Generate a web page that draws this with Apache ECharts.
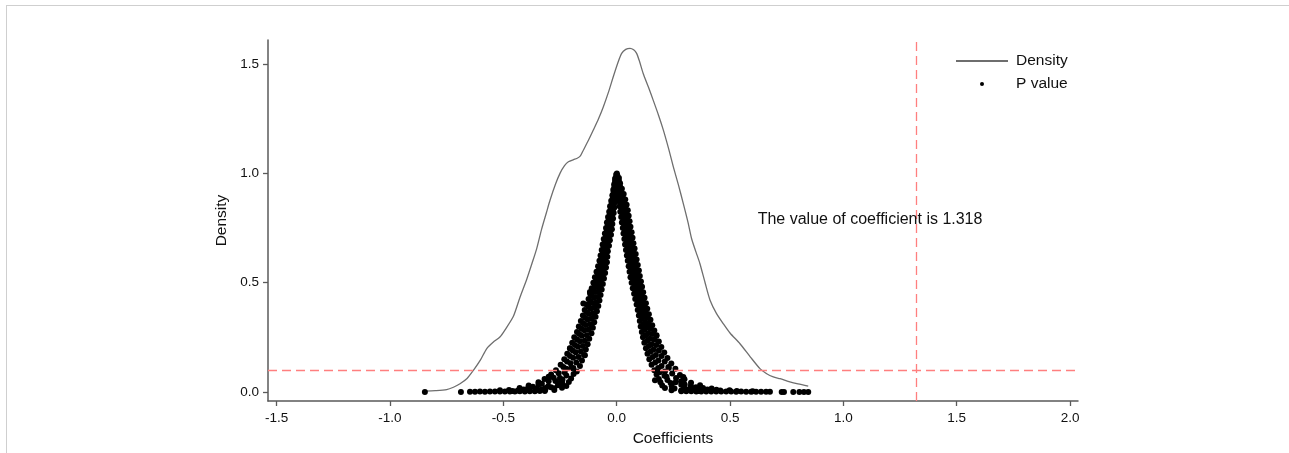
<!DOCTYPE html>
<html>
<head>
<meta charset="utf-8">
<script src="https://cdn.jsdelivr.net/npm/echarts@6/dist/echarts.min.js"></script>
<style>
  html, body { margin: 0; padding: 0; background: #fff; }
  #frame { position: absolute; left: 6px; top: 5px; width: 1283px; height: 448px;
           border-top: 1px solid #cfcfcf; border-left: 1px solid #cfcfcf; }
  #main { position: absolute; left: 0; top: 0; width: 1289px; height: 453px; }
</style>
</head>
<body>
<div id="frame"></div>
<div id="main"></div>
<script>
// kernel density of the placebo coefficients
var densityX = [-0.846, -0.80, -0.75, -0.72, -0.691, -0.66, -0.632, -0.60, -0.573, -0.545, -0.515, -0.494,
  -0.456, -0.426, -0.397, -0.374, -0.353, -0.331, -0.31, -0.294, -0.27, -0.25, -0.23, -0.213, -0.19,
  -0.176, -0.16, -0.147, -0.125, -0.103, -0.08, -0.059, -0.035, -0.015, 0.005, 0.022, 0.04, 0.059,
  0.075, 0.088, 0.10, 0.117, 0.14, 0.161, 0.185, 0.206, 0.23, 0.25, 0.273, 0.294, 0.315, 0.331,
  0.35, 0.367, 0.39, 0.412, 0.44, 0.47, 0.50, 0.544, 0.59, 0.632, 0.66, 0.691, 0.721, 0.76, 0.80, 0.845];
var densityY = [0.004, 0.006, 0.011, 0.022, 0.038, 0.062, 0.099, 0.148, 0.199, 0.228, 0.252, 0.282,
  0.345, 0.435, 0.515, 0.587, 0.655, 0.745, 0.82, 0.877, 0.95, 1.0, 1.035, 1.053, 1.063,
  1.068, 1.08, 1.106, 1.15, 1.198, 1.25, 1.304, 1.375, 1.442, 1.505, 1.549, 1.567, 1.572,
  1.565, 1.549, 1.515, 1.457, 1.395, 1.335, 1.265, 1.198, 1.11, 1.03, 0.945, 0.862, 0.775, 0.70,
  0.64, 0.588, 0.50, 0.42, 0.36, 0.313, 0.27, 0.221, 0.16, 0.107, 0.085, 0.069, 0.061, 0.048, 0.037, 0.027];

// p values, left flank [coef, p]
var pLeft = [
  [-0.002,0.995],[0.001,1.0],[0.003,0.99],
  [-0.007,0.975],[-0.004,0.981],[-0.001,0.969],
  [-0.011,0.95],[-0.006,0.957],[-0.002,0.944],
  [-0.015,0.925],[-0.009,0.932],[-0.003,0.919],
  [-0.019,0.90],[-0.011,0.907],[-0.004,0.894],
  [-0.024,0.875],[-0.015,0.883],[-0.006,0.869],
  [-0.029,0.85],[-0.019,0.857],[-0.010,0.844],
  [-0.033,0.825],[-0.023,0.832],[-0.013,0.819],
  [-0.038,0.80],[-0.027,0.807],[-0.016,0.794],
  [-0.043,0.775],[-0.031,0.782],[-0.019,0.769],
  [-0.047,0.75],[-0.034,0.757],[-0.021,0.744],
  [-0.052,0.725],[-0.038,0.732],[-0.025,0.719],
  [-0.057,0.70],[-0.043,0.707],[-0.030,0.694],
  [-0.062,0.675],[-0.048,0.682],[-0.034,0.669],
  [-0.066,0.65],[-0.052,0.657],[-0.039,0.644],
  [-0.071,0.625],[-0.056,0.632],[-0.041,0.619],
  [-0.076,0.60],[-0.060,0.607],[-0.043,0.594],
  [-0.082,0.575],[-0.064,0.582],[-0.047,0.569],
  [-0.089,0.55],[-0.070,0.557],[-0.051,0.544],
  [-0.096,0.525],[-0.076,0.532],[-0.056,0.519],
  [-0.103,0.50],[-0.082,0.507],[-0.061,0.494],
  [-0.110,0.475],[-0.088,0.482],[-0.066,0.469],
  [-0.117,0.45],[-0.094,0.457],[-0.071,0.444],
  [-0.124,0.425],[-0.100,0.432],[-0.076,0.419],
  [-0.133,0.40],[-0.107,0.407],[-0.081,0.394],
  [-0.141,0.375],[-0.114,0.382],[-0.087,0.369],
  [-0.149,0.35],[-0.121,0.357],[-0.093,0.344],
  [-0.158,0.325],[-0.128,0.332],[-0.099,0.319],
  [-0.167,0.30],[-0.136,0.307],[-0.105,0.294],
  [-0.175,0.275],[-0.143,0.282],[-0.111,0.269],
  [-0.187,0.25],[-0.154,0.257],[-0.121,0.244],
  [-0.196,0.225],[-0.162,0.232],[-0.128,0.219],
  [-0.206,0.20],[-0.171,0.207],[-0.136,0.194],
  [-0.218,0.175],[-0.181,0.182],[-0.144,0.169],
  [-0.231,0.15],[-0.192,0.157],[-0.153,0.144],
  [-0.247,0.125],[-0.204,0.132],[-0.162,0.119],
  [-0.268,0.10],[-0.222,0.107],[-0.176,0.094],
  [-0.289,0.08],[-0.256,0.086],[-0.222,0.076],[-0.190,0.083],
  [-0.318,0.06],[-0.278,0.065],[-0.239,0.056],[-0.201,0.062],
  [-0.345,0.045],[-0.300,0.049],[-0.255,0.041],[-0.211,0.046],
  [-0.388,0.03],[-0.345,0.033],[-0.302,0.027],[-0.259,0.031],[-0.222,0.028],
  [-0.428,0.018],[-0.390,0.02],[-0.352,0.016],[-0.314,0.019],[-0.276,0.017],[-0.241,0.02],
  [-0.515,0.008],[-0.475,0.009],[-0.435,0.007],[-0.395,0.009],[-0.355,0.008],[-0.315,0.01],[-0.275,0.009]
];

// points between the rows above, left flank
var pLeftFill = [
  [-0.007,0.965],[-0.003,0.960],[-0.010,0.940],[-0.005,0.935],[-0.0135,0.915],[-0.007,0.910],
  [-0.017,0.890],[-0.009,0.885],[-0.022,0.865],[-0.012,0.860],[-0.026,0.840],[-0.016,0.835],
  [-0.030,0.815],[-0.020,0.810],[-0.035,0.790],[-0.023,0.785],[-0.039,0.765],[-0.026,0.760],
  [-0.043,0.740],[-0.030,0.735],[-0.047,0.715],[-0.034,0.710],[-0.052,0.690],[-0.039,0.685],
  [-0.057,0.665],[-0.043,0.660],[-0.061,0.640],[-0.047,0.635],[-0.066,0.615],[-0.050,0.610],
  [-0.070,0.590],[-0.053,0.585],[-0.076,0.565],[-0.058,0.560],[-0.083,0.540],[-0.063,0.535],
  [-0.089,0.515],[-0.069,0.510],[-0.096,0.490],[-0.074,0.485],[-0.102,0.465],[-0.080,0.460],
  [-0.109,0.440],[-0.085,0.435],[-0.116,0.415],[-0.091,0.410],[-0.124,0.390],[-0.097,0.385],
  [-0.131,0.365],[-0.104,0.360],[-0.139,0.340],[-0.110,0.335],[-0.147,0.315],[-0.117,0.310],
  [-0.155,0.290],[-0.124,0.285],[-0.165,0.265],[-0.132,0.260],[-0.175,0.240],[-0.141,0.235],
  [-0.184,0.215],[-0.149,0.210],[-0.194,0.190],[-0.158,0.185],[-0.206,0.165],[-0.168,0.160],
  [-0.219,0.140],[-0.178,0.135],[-0.235,0.115],[-0.191,0.110],
  [-0.30,0.07],[-0.27,0.05],[-0.33,0.038],[-0.24,0.04],[-0.37,0.024],[-0.29,0.022],
  [-0.41,0.012],[-0.33,0.013],[-0.46,0.005],[-0.25,0.064],[-0.23,0.09],[-0.20,0.11]
];

// p values, right flank
var pRight = [
  [0.002,0.975],[0.006,0.968],[0.010,0.979],
  [0.003,0.95],[0.009,0.944],[0.015,0.955],
  [0.004,0.925],[0.013,0.918],[0.023,0.93],
  [0.006,0.90],[0.018,0.894],[0.031,0.906],
  [0.009,0.875],[0.023,0.869],[0.038,0.881],
  [0.013,0.85],[0.029,0.844],[0.044,0.856],
  [0.016,0.825],[0.033,0.819],[0.049,0.831],
  [0.020,0.80],[0.037,0.794],[0.053,0.806],
  [0.023,0.775],[0.040,0.769],[0.057,0.781],
  [0.027,0.75],[0.044,0.744],[0.061,0.756],
  [0.030,0.725],[0.048,0.719],[0.066,0.731],
  [0.034,0.70],[0.052,0.694],[0.070,0.706],
  [0.037,0.675],[0.056,0.669],[0.074,0.681],
  [0.041,0.65],[0.060,0.644],[0.079,0.656],
  [0.045,0.625],[0.064,0.619],[0.084,0.631],
  [0.049,0.60],[0.069,0.594],[0.088,0.606],
  [0.053,0.575],[0.073,0.569],[0.093,0.581],
  [0.057,0.55],[0.078,0.544],[0.098,0.556],
  [0.061,0.525],[0.082,0.519],[0.102,0.531],
  [0.066,0.50],[0.087,0.494],[0.107,0.506],
  [0.071,0.475],[0.092,0.469],[0.112,0.481],
  [0.077,0.45],[0.097,0.444],[0.117,0.456],
  [0.082,0.425],[0.103,0.419],[0.123,0.431],
  [0.088,0.40],[0.109,0.394],[0.129,0.406],
  [0.093,0.375],[0.115,0.369],[0.135,0.381],
  [0.098,0.35],[0.120,0.344],[0.142,0.356],
  [0.102,0.325],[0.126,0.319],[0.149,0.331],
  [0.106,0.30],[0.132,0.294],[0.157,0.306],
  [0.111,0.275],[0.139,0.269],[0.166,0.281],
  [0.116,0.25],[0.146,0.244],[0.175,0.256],
  [0.122,0.225],[0.154,0.219],[0.186,0.231],
  [0.129,0.20],[0.163,0.194],[0.197,0.206],
  [0.136,0.175],[0.173,0.169],[0.210,0.181],
  [0.144,0.15],[0.184,0.144],[0.224,0.156],
  [0.154,0.125],[0.198,0.119],[0.241,0.131],
  [0.166,0.10],[0.213,0.094],[0.259,0.106],
  [0.176,0.08],[0.211,0.074],[0.245,0.085],[0.279,0.078],
  [0.186,0.06],[0.224,0.055],[0.262,0.064],[0.299,0.058],
  [0.193,0.045],[0.238,0.041],[0.284,0.049],[0.328,0.043],
  [0.201,0.03],[0.243,0.027],[0.285,0.033],[0.327,0.028],[0.368,0.031],
  [0.213,0.018],[0.255,0.016],[0.297,0.02],[0.339,0.017],[0.381,0.019],[0.419,0.016],
  [0.242,0.008],[0.285,0.007],[0.328,0.009],[0.371,0.008],[0.414,0.009],[0.457,0.007],[0.498,0.008]
];

// points between the rows above, right flank
var pRightFill = [
  [0.005,0.960],[0.010,0.965],[0.007,0.935],[0.015,0.940],[0.010,0.910],[0.021,0.915],
  [0.014,0.885],[0.027,0.890],[0.018,0.860],[0.033,0.865],[0.023,0.835],[0.039,0.840],
  [0.026,0.810],[0.043,0.815],[0.030,0.785],[0.047,0.790],[0.033,0.760],[0.050,0.765],
  [0.037,0.735],[0.055,0.740],[0.041,0.710],[0.059,0.715],[0.045,0.685],[0.063,0.690],
  [0.048,0.660],[0.067,0.665],[0.052,0.635],[0.072,0.640],[0.057,0.610],[0.076,0.615],
  [0.061,0.585],[0.081,0.590],[0.065,0.560],[0.085,0.565],[0.069,0.535],[0.090,0.540],
  [0.074,0.510],[0.095,0.515],[0.079,0.485],[0.100,0.490],[0.084,0.460],[0.105,0.465],
  [0.090,0.435],[0.110,0.440],[0.095,0.410],[0.116,0.415],[0.101,0.385],[0.122,0.390],
  [0.107,0.360],[0.128,0.365],[0.112,0.335],[0.134,0.340],[0.117,0.310],[0.141,0.315],
  [0.122,0.285],[0.149,0.290],[0.128,0.260],[0.157,0.265],[0.135,0.235],[0.165,0.240],
  [0.142,0.210],[0.175,0.215],[0.150,0.185],[0.186,0.190],[0.159,0.160],[0.198,0.165],
  [0.170,0.135],[0.212,0.140],[0.183,0.110],[0.228,0.115],
  [0.22,0.07],[0.26,0.045],[0.30,0.035],[0.35,0.022],[0.23,0.11],[0.19,0.09],
  [0.40,0.012],[0.44,0.011],[0.31,0.012],[0.53,0.005],[0.60,0.004],[0.36,0.005]
];

// tails near zero and a few stray points
var pTails = [
  [-0.846,0],[-0.687,0],
  [-0.647,0.001],[-0.625,0.001],[-0.603,0.002],[-0.581,0.001],[-0.559,0.002],[-0.537,0.002],
  [-0.515,0.003],[-0.493,0.002],[-0.471,0.003],[-0.449,0.003],[-0.427,0.004],[-0.405,0.003],
  [-0.383,0.004],[-0.361,0.004],[-0.339,0.005],[-0.317,0.005],
  [0.285,0.004],[0.307,0.004],[0.329,0.004],[0.351,0.003],[0.373,0.003],[0.395,0.003],
  [0.417,0.002],[0.439,0.003],[0.461,0.002],[0.483,0.002],[0.505,0.002],[0.527,0.001],
  [0.549,0.002],[0.571,0.001],[0.593,0.001],[0.615,0.001],[0.637,0.001],[0.659,0.001],[0.676,0.001],
  [0.728,0],[0.738,0],[0.779,0],[0.806,0],[0.826,0],[0.845,0],
  [-0.081,0.549],[-0.118,0.458],[-0.147,0.405],[-0.206,0.199],[-0.140,0.168],
  [0.169,0.054],[0.294,0.069],[0.176,0.26]
];

var xTicks = [-1.5, -1.0, -0.5, 0.0, 0.5, 1.0, 1.5, 2.0];
var yTicks = [0.0, 0.5, 1.0, 1.5];
var trueCoef = 1.318;
var pCutoff = 0.1;
var noteText = 'The value of coefficient is 1.318';

var font = '"Liberation Sans", Arial, sans-serif';
var axisColor = '#5a5a5a';

var densityData = [];
for (var i = 0; i < densityX.length; i++) {
  densityData.push([densityX[i], densityY[i]]);
}
var pData = pLeft.concat(pLeftFill, pRight, pRightFill, pTails);

var myChart = echarts.init(document.getElementById('main'));

var option = {
  animation: false,
  backgroundColor: 'transparent',
  textStyle: { fontFamily: font },
  legend: {
    data: [
      { name: 'Density', itemStyle: { opacity: 0 } },
      { name: 'P value' }
    ],
    orient: 'vertical',
    left: 955,
    top: 52,
    padding: 0,
    itemWidth: 52,
    itemHeight: 4,
    itemGap: 5,
    textStyle: { fontFamily: font, fontSize: 15.5, color: '#111', lineHeight: 18, padding: [0, 0, 0, 3] }
  },
  grid: { left: 268, right: 211, top: 40, bottom: 52 },
  xAxis: {
    type: 'value',
    min: -1.538,
    max: 2.035,
    name: 'Coefficients',
    nameLocation: 'middle',
    nameGap: 30,
    nameTextStyle: { fontFamily: font, fontSize: 15.5, color: '#111' },
    axisLine: { onZero: false, lineStyle: { color: axisColor, width: 1.5 } },
    axisTick: { customValues: xTicks, length: 5, lineStyle: { color: axisColor, width: 1.3 } },
    axisLabel: {
      customValues: xTicks, margin: 10, fontSize: 13.5, color: '#111', fontFamily: font,
      formatter: function (v) { return v.toFixed(1); }
    },
    splitLine: { show: false }
  },
  yAxis: {
    type: 'value',
    min: -0.041,
    max: 1.61,
    name: 'Density',
    nameLocation: 'middle',
    nameGap: 33,
    nameTextStyle: { fontFamily: font, fontSize: 15.5, color: '#111' },
    axisLine: { show: true, onZero: false, lineStyle: { color: axisColor, width: 1.5 } },
    axisTick: { show: true, customValues: yTicks, length: 5, lineStyle: { color: axisColor, width: 1.3 } },
    axisLabel: {
      customValues: yTicks, margin: 9, fontSize: 13.5, color: '#111', fontFamily: font,
      formatter: function (v) { return v.toFixed(1); }
    },
    splitLine: { show: false }
  },
  series: [
    {
      name: 'Density',
      type: 'line',
      data: densityData,
      symbol: 'none',
      smooth: 0.25,
      lineStyle: { color: '#6e6e6e', width: 1.3 },
      itemStyle: { color: '#6e6e6e' },
      z: 3,
      markLine: {
        silent: true,
        symbol: 'none',
        label: { show: false },
        lineStyle: { color: '#ff7f7f', width: 1.3, type: [9, 5] },
        data: [{ xAxis: trueCoef }, { yAxis: pCutoff }]
      },
      markPoint: {
        silent: true,
        symbol: 'circle',
        symbolSize: 0,
        label: {
          show: true, position: 'right', distance: 5,
          formatter: noteText, color: '#111', fontSize: 16, fontFamily: font
        },
        data: [{ coord: [0.6, 0.79] }]
      }
    },
    {
      name: 'P value',
      type: 'scatter',
      data: pData,
      symbol: 'circle',
      symbolSize: 6,
      itemStyle: { color: '#000', opacity: 1 },
      z: 4
    }
  ]
};

myChart.setOption(option);
</script>
</body>
</html>
